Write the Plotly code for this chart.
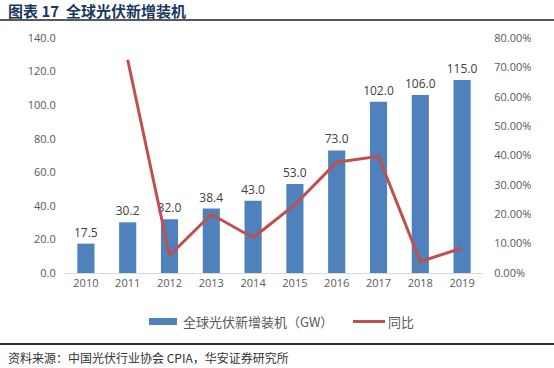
import plotly.graph_objects as go

years = ["2010", "2011", "2012", "2013", "2014", "2015", "2016", "2017", "2018", "2019"]
capacity_gw = [17.5, 30.2, 32.0, 38.4, 43.0, 53.0, 73.0, 102.0, 106.0, 115.0]
yoy_growth = [None, 0.726, 0.0596, 0.20, 0.12, 0.233, 0.377, 0.397, 0.039, 0.085]

title_text = "图表 17  全球光伏新增装机"
source_text = "资料来源：中国光伏行业协会 CPIA，华安证券研究所"
bar_name = "全球光伏新增装机（GW）"
line_name = "同比"

BAR_COLOR = "#4F81BD"
LINE_COLOR = "#C0504D"

W, H = 554, 368
L, R, T, B = 65, 71, 38, 95
pw, ph = W - L - R, H - T - B

def px_x(x):
    return (x - L) / pw

def px_y(y):
    return (H - B - y) / ph

cjk = "Noto Sans CJK SC, Noto Sans, sans-serif"
num = "Open Sans, sans-serif"

fig = go.Figure()
fig.add_trace(go.Bar(
    x=years, y=capacity_gw, name=bar_name,
    marker=dict(color=BAR_COLOR, line=dict(width=0)),
    text=[f"{v:.1f}" for v in capacity_gw], textposition="outside",
    constraintext="none",
    textfont=dict(size=12, color="#404040", family=num),
    cliponaxis=False, showlegend=False,
))
fig.add_trace(go.Scatter(
    x=years, y=yoy_growth, name=line_name, yaxis="y2",
    mode="lines", line=dict(color=LINE_COLOR, width=3), showlegend=False,
))

fig.update_layout(
    width=W, height=H,
    margin=dict(l=L, r=R, t=T, b=B),
    plot_bgcolor="white", paper_bgcolor="white",
    bargap=0.59,
    font=dict(family=cjk, color="#595959"),
    xaxis=dict(
        type="category", showgrid=False, showline=True, linecolor="#D9D9D9", linewidth=1,
        ticks="", tickfont=dict(size=11, color="#595959", family=num),
    ),
    yaxis=dict(
        range=[0, 140], dtick=20, tickformat=".1f", showgrid=False, zeroline=False,
        showline=False, tickfont=dict(size=11, color="#595959", family=num),
        ticks="outside", ticklen=6, tickcolor="white",
    ),
    yaxis2=dict(
        range=[0, 0.8], dtick=0.1, tickformat=".2%", overlaying="y", side="right",
        showgrid=False, zeroline=False, showline=False,
        tickfont=dict(size=11, color="#595959", family=num),
        ticks="outside", ticklen=8, tickcolor="white",
    ),
    showlegend=False,
)

# Custom legend
fig.add_shape(type="rect", xref="paper", yref="paper",
              x0=px_x(149), x1=px_x(177), y0=px_y(318), y1=px_y(325),
              fillcolor=BAR_COLOR, line=dict(width=0))
fig.add_annotation(text=bar_name, xref="paper", yref="paper",
                   x=px_x(181), y=px_y(321.5), xanchor="left", yanchor="middle",
                   showarrow=False, font=dict(size=13, color="#595959", family=cjk))
fig.add_shape(type="line", xref="paper", yref="paper",
              x0=px_x(353), x1=px_x(385), y0=px_y(321.5), y1=px_y(321.5),
              line=dict(color=LINE_COLOR, width=3))
fig.add_annotation(text=line_name, xref="paper", yref="paper",
                   x=px_x(386), y=px_y(321.5), xanchor="left", yanchor="middle",
                   showarrow=False, font=dict(size=13, color="#595959", family=cjk))

# Title
fig.add_annotation(
    text=f"<b>{title_text}</b>", xref="paper", yref="paper",
    x=px_x(6), y=px_y(10), xanchor="left", yanchor="middle", showarrow=False,
    font=dict(size=15, color="#17375E", family=cjk),
)
fig.add_shape(type="line", xref="paper", yref="paper",
              x0=px_x(0), x1=px_x(554), y0=px_y(20), y1=px_y(20),
              line=dict(color="#222222", width=1.5))
# Footer
fig.add_shape(type="line", xref="paper", yref="paper",
              x0=px_x(0), x1=px_x(554), y0=px_y(344), y1=px_y(344),
              line=dict(color="#333333", width=2))
fig.add_annotation(
    text=source_text, xref="paper", yref="paper",
    x=px_x(6), y=px_y(357), xanchor="left", yanchor="middle", showarrow=False,
    font=dict(size=12, color="#333333", family=cjk),
)

fig.write_html(
    "out.html",
    config={"displayModeBar": False},
    post_script="document.body.style.margin='0';document.body.style.padding='0';",
)
